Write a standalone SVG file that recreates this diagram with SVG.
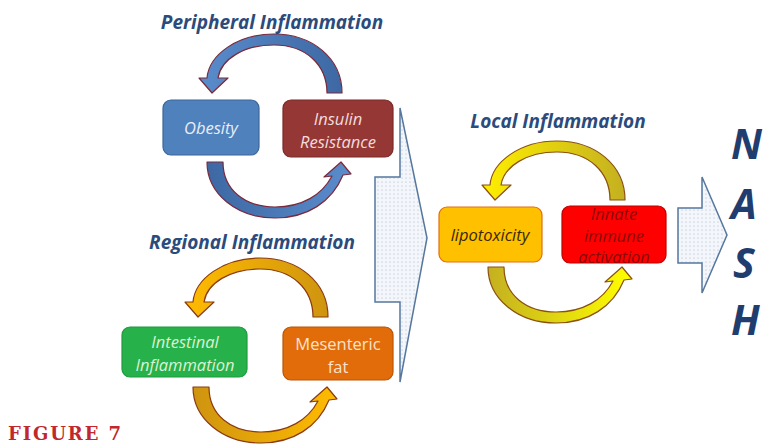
<svg xmlns="http://www.w3.org/2000/svg" xmlns:xlink="http://www.w3.org/1999/xlink" width="764" height="444" viewBox="0 0 764 444">
<style>
.title{font-family:"Open Sans","DejaVu Sans",sans-serif;font-weight:bold;font-style:italic;font-size:19px;fill:#2b4b7c;text-anchor:middle}
.lbl{font-family:"Open Sans","DejaVu Sans",sans-serif;font-style:italic;font-size:16.5px;text-anchor:middle}
.nash{font-family:"Open Sans","DejaVu Sans",sans-serif;font-weight:bold;font-style:italic;font-size:41px;fill:#1f3d6e}
.chev{fill:url(#dots);stroke:#56779e;stroke-width:1.5;stroke-linejoin:miter}
</style>
<defs>
<pattern id="dots" width="4" height="4" patternUnits="userSpaceOnUse"><rect width="4" height="4" fill="#f3f6fa"/><circle cx="2" cy="2" r="0.6" fill="#a4b2c8"/></pattern>
<linearGradient id="blueT" x1="1" y1="0" x2="0" y2="0"><stop offset="0" stop-color="#3d68a3"/><stop offset="1" stop-color="#5a8ccc"/></linearGradient>
<linearGradient id="blueB" x1="0" y1="0" x2="1" y2="0"><stop offset="0" stop-color="#3d68a3"/><stop offset="1" stop-color="#5a8ccc"/></linearGradient>
<linearGradient id="orT" x1="1" y1="0" x2="0" y2="0"><stop offset="0" stop-color="#cf9410"/><stop offset="1" stop-color="#ffbb00"/></linearGradient>
<linearGradient id="orB" x1="0" y1="0" x2="1" y2="0"><stop offset="0" stop-color="#cf9410"/><stop offset="1" stop-color="#ffbb00"/></linearGradient>
<linearGradient id="yeT" x1="1" y1="0" x2="0" y2="0"><stop offset="0" stop-color="#c4b020"/><stop offset="1" stop-color="#ffee00"/></linearGradient>
<linearGradient id="yeB" x1="0" y1="0" x2="1" y2="0"><stop offset="0" stop-color="#c4b020"/><stop offset="1" stop-color="#ffff00"/></linearGradient>
<path id="arcTop" d="M130,0 C130,-35 100,-59 62,-59 C25,-59 -3,-38 -5,-15 L-13,-15 L0,0 L16,-15 L6,-15 C9,-34 32,-48 62,-48 C94,-48 115,-28 115,0 Z"/>
<path id="arcBot" d="M0,0 C0,32 30,56 68,56 C100,56 125,40 136,13 L144,12 L134,0 L117,15 L125,14 C115,33 95,45 68,45 C38,45 16,28 16,0 Z"/>
</defs>
<rect width="764" height="444" fill="#ffffff"/>

<g id="connectors" stroke-width="1.2" stroke-linejoin="round">
<use xlink:href="#arcTop" href="#arcTop" transform="translate(212,93)" fill="url(#blueT)" stroke="#7a2a3c"/>
<use xlink:href="#arcBot" href="#arcBot" transform="translate(207,162)" fill="url(#blueB)" stroke="#7a2a3c"/>
<use xlink:href="#arcTop" href="#arcTop" transform="translate(198,317)" fill="url(#orT)" stroke="#8a3a12"/>
<use xlink:href="#arcBot" href="#arcBot" transform="translate(193,387)" fill="url(#orB)" stroke="#8a3a12"/>
<use xlink:href="#arcTop" href="#arcTop" transform="translate(495,200)" fill="url(#yeT)" stroke="#8a5010"/>
<use xlink:href="#arcBot" href="#arcBot" transform="translate(488,267)" fill="url(#yeB)" stroke="#8a5010"/>
<polygon id="chevron1" class="chev" points="375,177 400,177 400,108 427,238 400,382 400,302 375,302"/>
<polygon id="chevron2" class="chev" points="678,208 702,208 702,177 727,235 702,293 702,263 678,263"/>
</g>

<g id="titles">
<text class="title" x="272" y="29">Peripheral Inflammation</text>
<text class="title" x="252" y="249">Regional Inflammation</text>
<text class="title" x="558" y="128">Local Inflammation</text>
</g>

<g id="obesity">
<rect x="163" y="100" width="96" height="55" rx="8" fill="#4f81bd" stroke="#3b6699" stroke-width="1.2"/>
<text class="lbl" x="211" y="134" fill="#e8eef8">Obesity</text>
</g>
<g id="insulin">
<rect x="283" y="100" width="110" height="57" rx="8" fill="#953735" stroke="#7a2a28" stroke-width="1.2"/>
<text class="lbl" x="338" y="125" fill="#f2dcdc">Insulin</text>
<text class="lbl" x="338" y="148" fill="#f2dcdc">Resistance</text>
</g>
<g id="intestinal">
<rect x="122" y="327" width="125" height="50" rx="8" fill="#26b14a" stroke="#1f9a3e" stroke-width="1.2"/>
<text class="lbl" x="185" y="348" fill="#dcf2d4">Intestinal</text>
<text class="lbl" x="185" y="371" fill="#dcf2d4">Inflammation</text>
</g>
<g id="mesenteric">
<rect x="283" y="327" width="110" height="53" rx="8" fill="#e36c0a" stroke="#b85508" stroke-width="1.2"/>
<text class="lbl" x="338" y="350" fill="#fbe2cc" style="font-style:normal">Mesenteric</text>
<text class="lbl" x="338" y="373" fill="#fbe2cc" style="font-style:normal">fat</text>
</g>
<g id="lipotoxicity">
<rect x="439" y="207" width="103" height="55" rx="8" fill="#ffc000" stroke="#e07010" stroke-width="1.2"/>
<text class="lbl" x="490" y="241" fill="#3a2800">lipotoxicity</text>
</g>
<g id="innate">
<rect x="562" y="206" width="104" height="57" rx="8" fill="#ff0000" stroke="#c00000" stroke-width="1.2"/>
<text class="lbl" x="614" y="220" fill="#8b0a0a">Innate</text>
<text class="lbl" x="614" y="242" fill="#8b0a0a">immune</text>
<text class="lbl" x="614" y="263" fill="#8b0a0a">activation</text>
</g>

<g id="nash">
<text class="nash" x="731" y="159">N</text>
<text class="nash" x="731" y="219">A</text>
<text class="nash" x="733" y="278">S</text>
<text class="nash" x="731" y="335">H</text>
</g>

<text x="8" y="440" font-family="'DejaVu Serif','Liberation Serif',serif" font-weight="bold" font-size="18" fill="#c0282d" textLength="113" lengthAdjust="spacing">FIGURE 7</text>
</svg>
